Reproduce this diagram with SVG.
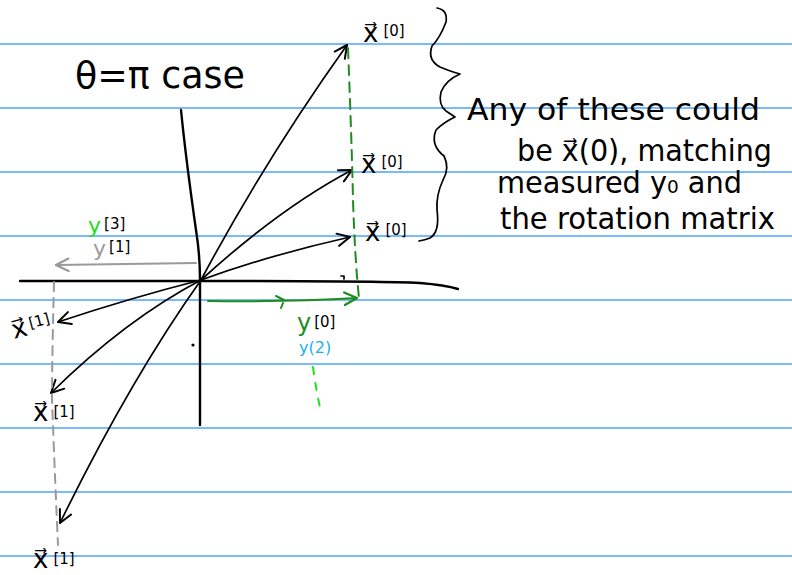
<svg xmlns="http://www.w3.org/2000/svg" width="792" height="575" viewBox="0 0 792 575">
<defs>
<style>
.rule{stroke:#4aa3ff;stroke-width:1.3;fill:none}
.ink{stroke:#000;stroke-width:1.7;fill:none;stroke-linecap:round;stroke-linejoin:round}
.axis{stroke:#000;stroke-width:2.4;fill:none;stroke-linecap:round}
.gray{stroke:#9a9a9a;stroke-width:2;fill:none;stroke-linecap:round}
.green{stroke:#1e8c1e;stroke-width:2;fill:none;stroke-linecap:round}
.lime{stroke:#22dd22;stroke-width:2;fill:none;stroke-linecap:round}
.hand{font-family:"DejaVu Sans","Liberation Sans",sans-serif;fill:#000}
.big{font-size:30px}
.xl{font-size:26px}
.br{font-size:15px}
.cg{fill:#1e8c1e}
.cl{fill:#22dd22}
.cy{fill:#9a9a9a}
.cb{fill:#1ab0f0}
</style>
<marker id="hk" viewBox="0 0 12 12" refX="11" refY="6" markerWidth="15" markerHeight="15" markerUnits="userSpaceOnUse" orient="auto">
<path d="M1,1 L11,6 L1,11" fill="none" stroke="#000" stroke-width="1.6" stroke-linecap="round" stroke-linejoin="round"/>
</marker>
<marker id="hg" viewBox="0 0 12 12" refX="11" refY="6" markerWidth="15" markerHeight="15" markerUnits="userSpaceOnUse" orient="auto">
<path d="M1,1 L11,6 L1,11" fill="none" stroke="#9a9a9a" stroke-width="1.8" stroke-linecap="round" stroke-linejoin="round"/>
</marker>
<marker id="hgr" viewBox="0 0 12 12" refX="11" refY="6" markerWidth="15" markerHeight="15" markerUnits="userSpaceOnUse" orient="auto">
<path d="M1,1 L11,6 L1,11" fill="none" stroke="#1e8c1e" stroke-width="1.8" stroke-linecap="round" stroke-linejoin="round"/>
</marker>
</defs>
<rect width="792" height="575" fill="#fff"/>
<g id="ruled-lines">
<line class="rule" x1="0" y1="44" x2="792" y2="44"/>
<line class="rule" x1="0" y1="108" x2="792" y2="108"/>
<line class="rule" x1="0" y1="172" x2="792" y2="172"/>
<line class="rule" x1="0" y1="236" x2="792" y2="236"/>
<line class="rule" x1="0" y1="300" x2="792" y2="300"/>
<line class="rule" x1="0" y1="364" x2="792" y2="364"/>
<line class="rule" x1="0" y1="428" x2="792" y2="428"/>
<line class="rule" x1="0" y1="492" x2="792" y2="492"/>
<line class="rule" x1="0" y1="556" x2="792" y2="556"/>
</g>
<g id="axes">
<path class="axis" d="M181,110 Q186,160 196,230 Q200,255 200,280 L200,425"/>
<path class="axis" d="M20,281 L201,281 Q380,281 420,283 Q445,285 458,289"/>
<path class="ink" d="M341,276 L344,276 L344,279"/>
</g>
<g id="connectors">
<path class="ink" marker-end="url(#hk)" d="M201,280 Q265,160 347,45"/>
<path class="ink" marker-end="url(#hk)" d="M201,280 Q280,208 352,170"/>
<path class="ink" marker-end="url(#hk)" d="M201,280 Q270,255 350,237"/>
<path class="ink" marker-end="url(#hk)" d="M201,280 Q130,298 58,322"/>
<path class="ink" marker-end="url(#hk)" d="M201,280 Q125,320 51,393"/>
<path class="ink" marker-end="url(#hk)" d="M201,280 Q130,380 60,523"/>
<path class="gray" marker-end="url(#hg)" d="M196,263 Q130,264 56,265"/>
<path class="gray" stroke-dasharray="9 7" d="M54,282 Q52,360 52,400 Q55,480 58,545"/>
<path class="green" stroke-dasharray="10 7" d="M348,48 Q352,150 353,200 Q355,260 359,298"/>
<path class="green" marker-end="url(#hgr)" d="M208,301 Q290,302 357,298"/>
<path class="green" d="M276,296 L284,300 M283,303 L281,308"/>
<path class="lime" stroke-dasharray="7 9" d="M313,367 Q316,390 321,412"/>
<circle cx="193" cy="345" r="1.6" fill="#000"/>
</g>
<g id="brace">
<path class="ink" stroke-width="2.2" d="M437,8 Q448,10 446,22 Q440,38 432,46 Q427,60 440,67 Q452,72 460,74 Q446,80 441,92 Q438,105 446,111 Q452,115 455,117 Q444,122 436,130 Q430,145 444,156 Q450,168 443,180 Q436,195 437,210 Q440,232 430,238 Q425,240 419,241"/>
</g>
<g id="title">
<text class="hand" x="75" y="88" font-size="38" textLength="170" lengthAdjust="spacingAndGlyphs">θ=π case</text>
</g>
<g id="note">
<text class="hand big" x="467" y="120" textLength="293" lengthAdjust="spacingAndGlyphs">Any of these could</text>
<text class="hand big" x="517" y="161" textLength="255" lengthAdjust="spacingAndGlyphs">be x⃗(0), matching</text>
<text class="hand big" x="497" y="193" textLength="245" lengthAdjust="spacingAndGlyphs">measured y₀ and</text>
<text class="hand big" x="500" y="229" textLength="275" lengthAdjust="spacingAndGlyphs">the rotation matrix</text>
</g>
<g id="labels-x0">
<text class="hand" x="363" y="42"><tspan class="xl">x⃗</tspan><tspan class="br" dx="5" dy="-6">[0]</tspan></text>
<text class="hand" x="361" y="173"><tspan class="xl">x⃗</tspan><tspan class="br" dx="5" dy="-6">[0]</tspan></text>
<text class="hand" x="365" y="241"><tspan class="xl">x⃗</tspan><tspan class="br" dx="5" dy="-6">[0]</tspan></text>
</g>
<g id="labels-x1">
<text class="hand" x="14" y="339" transform="rotate(-15 14 339)"><tspan class="xl">x⃗</tspan><tspan class="br" dx="3" dy="-6">[1]</tspan></text>
<text class="hand" x="33" y="421"><tspan class="xl">x⃗</tspan><tspan class="br" dx="5" dy="-4">[1]</tspan></text>
<text class="hand" x="33" y="568"><tspan class="xl">x⃗</tspan><tspan class="br" dx="5" dy="-4">[1]</tspan></text>
</g>
<g id="labels-y">
<text class="hand" x="88" y="233"><tspan class="cl" font-size="22">y</tspan><tspan class="br" dx="3" dy="-4">[3]</tspan></text>
<text class="hand" x="93" y="256"><tspan class="cy" font-size="22">y</tspan><tspan class="br" dx="3" dy="-4">[1]</tspan></text>
<text class="hand" x="297" y="331"><tspan class="cg" font-size="24">y</tspan><tspan class="br" dx="3" dy="-4">[0]</tspan></text>
<text class="hand cb" x="299" y="353" font-size="16">y(2)</text>
</g>
</svg>
